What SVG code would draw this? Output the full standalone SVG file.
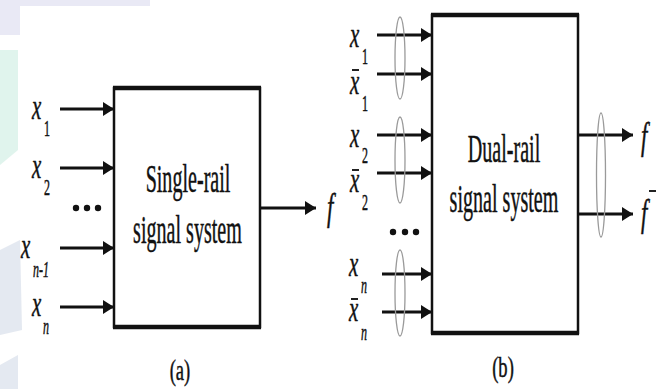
<svg xmlns="http://www.w3.org/2000/svg" width="664" height="389" viewBox="0 0 664 389">
<style>
.t{font-family:'Liberation Serif','DejaVu Serif','Noto Serif',serif;fill:#111;stroke:#111;stroke-width:0.5}
.it{font-style:italic}
.ln{stroke:#111;stroke-width:3;fill:none}
.box{fill:#fff;stroke:#111;stroke-width:2.5}
.edge{stroke:#111;stroke-width:4.5}
.ell{fill:none;stroke:#9a9a9a;stroke-width:1.3}
.bar{stroke:#222;stroke-width:2}
.dot{fill:#111}
</style>
<defs>
<marker id="ah" markerUnits="userSpaceOnUse" markerWidth="12" markerHeight="14" refX="11" refY="7" orient="auto">
<path d="M0,0 L11,7 L0,14 Z" fill="#111"/>
</marker>
</defs>
<rect width="664" height="389" fill="#fff"/>
<g id="watermark" opacity="0.6">
<polygon points="0,0 150,0 150,6 20,6 20,35 0,35" fill="#dcdcf0"/>
<polygon points="0,50 18,50 18,150 0,165" fill="#cdeee2"/>
<polygon points="0,250 20,240 22,330 0,335" fill="#d3dbe8"/>
<polygon points="0,365 18,355 18,389 0,389" fill="#d3dbe8"/>
</g>
<g id="connectors">
<line class="ln" x1="60" y1="109" x2="114" y2="109" marker-end="url(#ah)"/>
<line class="ln" x1="60" y1="168" x2="114" y2="168" marker-end="url(#ah)"/>
<line class="ln" x1="60" y1="248" x2="114" y2="248" marker-end="url(#ah)"/>
<line class="ln" x1="60" y1="307" x2="114" y2="307" marker-end="url(#ah)"/>
<line class="ln" x1="260" y1="208" x2="316" y2="208" marker-end="url(#ah)"/>
<line class="ln" x1="377" y1="35" x2="432" y2="35" marker-end="url(#ah)"/>
<line class="ln" x1="377" y1="74" x2="432" y2="74" marker-end="url(#ah)"/>
<line class="ln" x1="377" y1="135" x2="432" y2="135" marker-end="url(#ah)"/>
<line class="ln" x1="377" y1="173" x2="432" y2="173" marker-end="url(#ah)"/>
<line class="ln" x1="382" y1="274" x2="432" y2="274" marker-end="url(#ah)"/>
<line class="ln" x1="382" y1="312" x2="432" y2="312" marker-end="url(#ah)"/>
<line class="ln" x1="578" y1="135" x2="633" y2="135" marker-end="url(#ah)"/>
<line class="ln" x1="578" y1="214" x2="633" y2="214" marker-end="url(#ah)"/>
<ellipse class="ell" cx="400" cy="58" rx="5" ry="41"/>
<ellipse class="ell" cx="400" cy="160" rx="5" ry="43"/>
<ellipse class="ell" cx="400" cy="293" rx="5" ry="43"/>
<ellipse class="ell" cx="601" cy="175" rx="4.5" ry="62"/>
</g>
<g id="nodeA">
<rect class="box" x="114" y="88" width="146" height="239"/>
<line class="edge" x1="113" y1="88" x2="261" y2="88"/>
<line class="edge" x1="113" y1="327" x2="261" y2="327"/>
<text class="t" font-size="41" text-anchor="middle" transform="translate(188,192) scale(0.49,1)">Single-rail</text>
<text class="t" font-size="41" text-anchor="middle" transform="translate(187.5,243) scale(0.49,1)">signal system</text>
</g>
<g id="inputsA">
<text class="t it" font-size="36" transform="translate(32,119) scale(0.58,1)">x</text>
<text class="t" font-size="24" transform="translate(44,136) scale(0.5,1)">1</text>
<text class="t it" font-size="36" transform="translate(32,178) scale(0.58,1)">x</text>
<text class="t" font-size="24" transform="translate(44,195) scale(0.5,1)">2</text>
<circle class="dot" cx="76" cy="208" r="3.2"/>
<circle class="dot" cx="87" cy="208" r="3.2"/>
<circle class="dot" cx="98" cy="208" r="3.2"/>
<text class="t it" font-size="36" transform="translate(21,258) scale(0.58,1)">x</text>
<text class="t it" font-size="24" transform="translate(33,277) scale(0.5,1)">n-1</text>
<text class="t it" font-size="36" transform="translate(32,316) scale(0.58,1)">x</text>
<text class="t it" font-size="24" transform="translate(43,334) scale(0.5,1)">n</text>
<text class="t it" font-size="38" transform="translate(327,220) scale(0.6,1)">f</text>
<text class="t" font-size="30" text-anchor="middle" transform="translate(180,380) scale(0.62,1)">(a)</text>
</g>
<g id="nodeB">
<rect class="box" x="432" y="15" width="146" height="318"/>
<line class="edge" x1="431" y1="15" x2="579" y2="15"/>
<line class="edge" x1="431" y1="333" x2="579" y2="333"/>
<text class="t" font-size="41" text-anchor="middle" transform="translate(504,162) scale(0.49,1)">Dual-rail</text>
<text class="t" font-size="41" text-anchor="middle" transform="translate(504,212) scale(0.49,1)">signal system</text>
</g>
<g id="inputsB">
<text class="t it" font-size="36" transform="translate(350,47) scale(0.58,1)">x</text>
<text class="t" font-size="24" transform="translate(362,64) scale(0.5,1)">1</text>
<line class="bar" x1="352" y1="70" x2="359" y2="70"/>
<text class="t it" font-size="36" transform="translate(350,94) scale(0.58,1)">x</text>
<text class="t" font-size="24" transform="translate(362,111) scale(0.5,1)">1</text>
<text class="t it" font-size="36" transform="translate(350,147) scale(0.58,1)">x</text>
<text class="t" font-size="24" transform="translate(362,163) scale(0.5,1)">2</text>
<line class="bar" x1="352" y1="170" x2="359" y2="170"/>
<text class="t it" font-size="36" transform="translate(350,192) scale(0.58,1)">x</text>
<text class="t" font-size="24" transform="translate(362,210) scale(0.5,1)">2</text>
<circle class="dot" cx="393" cy="232" r="3.2"/>
<circle class="dot" cx="405" cy="232" r="3.2"/>
<circle class="dot" cx="416" cy="232" r="3.2"/>
<text class="t it" font-size="36" transform="translate(349,276) scale(0.58,1)">x</text>
<text class="t it" font-size="24" transform="translate(361,293) scale(0.5,1)">n</text>
<line class="bar" x1="351" y1="299" x2="358" y2="299"/>
<text class="t it" font-size="36" transform="translate(349,321) scale(0.58,1)">x</text>
<text class="t it" font-size="24" transform="translate(361,340) scale(0.5,1)">n</text>
<text class="t it" font-size="38" transform="translate(641,149) scale(0.6,1)">f</text>
<line class="bar" x1="649" y1="191" x2="656" y2="191"/>
<text class="t it" font-size="38" transform="translate(641,226) scale(0.6,1)">f</text>
<text class="t" font-size="30" text-anchor="middle" transform="translate(503,377) scale(0.62,1)">(b)</text>
</g>
</svg>
